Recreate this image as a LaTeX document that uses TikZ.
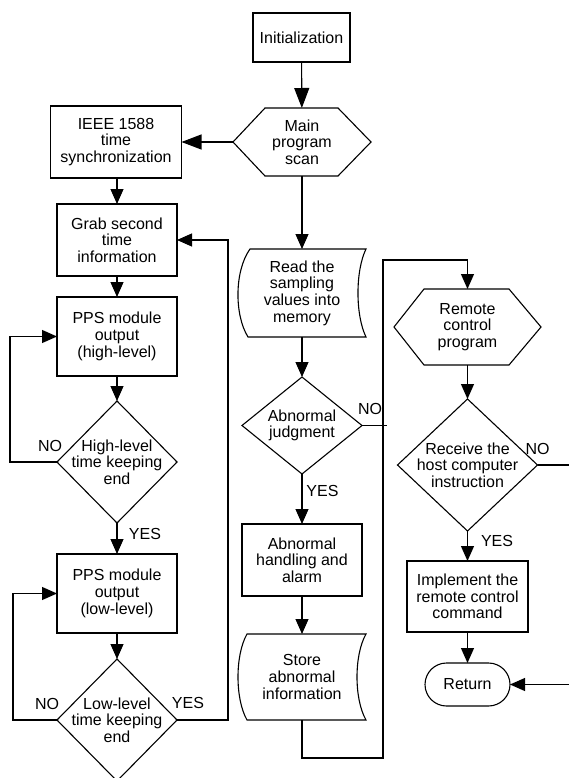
\documentclass[tikz,border=0pt]{standalone}
\usepackage{fontspec}
\setmainfont{Liberation Sans}
\usetikzlibrary{arrows.meta}
\begin{document}
\begin{tikzpicture}[x=1pt,y=-1pt,
  every node/.style={font=\fontsize{16}{16.7}\selectfont, align=center, inner sep=0pt, outer sep=0pt},
  ln/.style={line width=1.1pt, line join=miter},
  box/.style={draw, line width=1.1pt},
  arr/.style={ln, -{Triangle[length=15pt,width=13pt]}},
  bigarr/.style={ln, -{Triangle[length=20pt,width=15pt]}},
  lbl/.style={inner sep=0pt}]
\useasboundingbox (0,0) rectangle (569,778);

% ---------- nodes ----------
\node[box, minimum width=97, minimum height=49] (init) at (301.5,37.5) {Initialization};
\node[minimum width=138, minimum height=68] (main) at (302,142) {Main\\program\\scan};
\draw[ln] (233,142) -- (265,108) -- (338,108) -- (371,142) -- (338,176) -- (265,176) -- cycle;

\node[box, minimum width=131, minimum height=72] (ieee) at (116,142) {IEEE 1588\\time\\synchronization};
\node[box, minimum width=120, minimum height=72] (grab) at (117,240) {Grab second\\time\\information};
\node[box, minimum width=120, minimum height=79] (ppsh) at (117,336.5) {PPS module\\output\\(high-level)};
\node[minimum width=120, minimum height=122] (hd) at (117,462) {High-level\\time keeping\\end};
\draw[ln] (hd.north) -- (hd.east) -- (hd.south) -- (hd.west) -- cycle;
\node[box, minimum width=120, minimum height=79] (ppsl) at (117,593.5) {PPS module\\output\\(low-level)};
\node[minimum width=120, minimum height=122] (ld) at (117,720) {Low-level\\time keeping\\end};
\draw[ln] (ld.north) -- (ld.east) -- (ld.south) -- (ld.west) -- cycle;

\node[minimum width=128, minimum height=88] (read) at (302,293) {Read the\\sampling\\values into\\memory};
\draw[ln] (250,249) -- (366,249) .. controls (355.3,271) and (355.3,315) .. (366,337)
  -- (248,337) .. controls (234.3,315) and (234.3,271) .. (250,249) -- cycle;
\node[minimum width=120, minimum height=97] (ad) at (302,425.5) {Abnormal\\judgment};
\draw[ln] (ad.north) -- (ad.east) -- (ad.south) -- (ad.west) -- cycle;
\node[box, minimum width=120, minimum height=72] (handle) at (302,560) {Abnormal\\handling and\\alarm};
\node[minimum width=128, minimum height=86] (store) at (302,677) {Store\\abnormal\\information};
\draw[ln] (247,634) -- (366,634) .. controls (354,655) and (354,699) .. (366,720)
  -- (247,720) .. controls (235,699) and (235,655) .. (247,634) -- cycle;

\node[minimum width=147, minimum height=76] (remote) at (467.5,327) {Remote\\control\\program};
\draw[ln] (394,327) -- (424,289) -- (509,289) -- (541,327) -- (509,365) -- (424,365) -- cycle;
\node[minimum width=140, minimum height=132] (rd) at (467.5,465) {Receive the\\host computer\\instruction};
\draw[ln] (rd.north) -- (rd.east) -- (rd.south) -- (rd.west) -- cycle;
\node[box, minimum width=121, minimum height=71] (impl) at (467.5,596.5) {Implement the\\remote control\\command};
\node[box, rounded corners=21.5pt, minimum width=85, minimum height=43] (ret) at (467.5,684.5) {Return};

% ---------- helper coordinates ----------
\coordinate (c1) at (383,758);
\coordinate (c2) at (383,260);
\coordinate (e1) at (575,465);
\coordinate (e2) at (575,684.5);

% ---------- connectors ----------
\draw[bigarr] (init) -- (main);
\draw[bigarr] (main.west) -- (ieee.east);
\draw[arr] (ieee.south -| grab.north) -- (grab.north);
\draw[arr] (grab) -- (ppsh);
\draw[arr] (ppsh) -- (hd.north);
\draw[arr] (hd.west) -- ++(-47,0) |- (ppsh.west);
\draw[arr] (hd.south) -- (ppsl.north);
\draw[arr] (ppsl) -- (ld.north);
\draw[arr] (ld.west) -- ++(-44,0) |- (ppsl.west);
\draw[arr] (ld.east) -- ++(51,0) |- (grab.east);

\draw[arr] (main.south) -- (read.north);
\draw[arr] (read.south) -- (ad.north);
\draw[ln] (ad.east) -- ++(25,0);
\draw[arr] (ad.south) -- (handle.north);
\draw[arr] (handle) -- (store.north);
\draw[arr] (store.south) |- (c1) -- (c2) -| (remote.north);

\draw[arr] (remote.south) -- (rd.north);
\draw[ln] (rd.east) -- (e1);
\draw[arr] (rd.south) -- (impl.north);
\draw[arr] (impl) -- (ret);
\draw[arr] (e2) -- (ret.east);

% ---------- labels ----------
\node[lbl] (n1) at (50,446) {NO};
\node[lbl] (y1) at (145,534) {YES};
\node[lbl] (n2) at (47,704) {NO};
\node[lbl] (y2) at (188,703) {YES};
\node[lbl] (n3) at (370,409) {NO};
\node[lbl] (y3) at (322.5,491) {YES};
\node[lbl] (n4) at (537.5,448.5) {NO};
\node[lbl] (y4) at (497,541) {YES};
\end{tikzpicture}
\end{document}
